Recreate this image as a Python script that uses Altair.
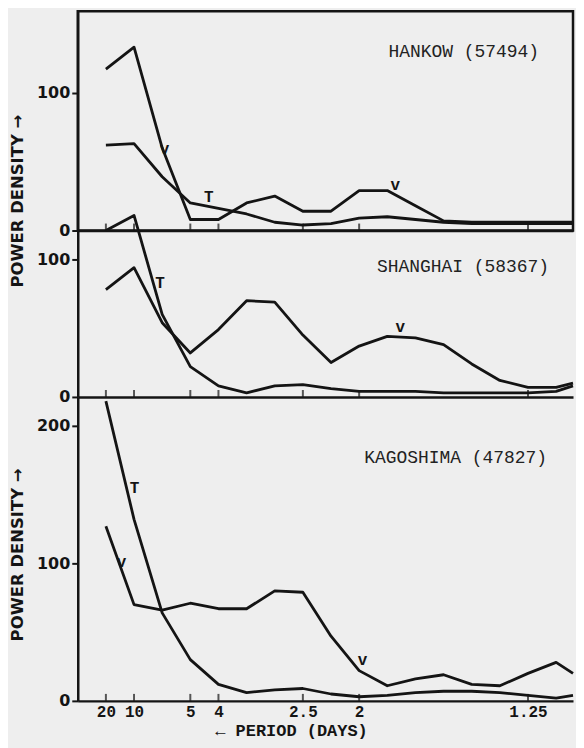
import altair as alt
import pandas as pd

# frequency (cycles/day) of each spectral estimate
FREQ = [0.05, 0.10, 0.15, 0.20, 0.25, 0.30, 0.35, 0.40, 0.45, 0.50,
        0.55, 0.60, 0.65, 0.70, 0.75, 0.80, 0.85, 0.88]

HANKOW_V = [117, 133, 60, 8, 8, 20, 25, 14, 14, 29, 29, 18, 7, 6, 6, 6, 6, 6]
HANKOW_T = [62, 63, 39, 20, 16, 12, 6, 4, 5, 9, 10, 8, 6, 5, 5, 5, 5, 5]

SHANGHAI_V = [78, 94, 54, 32, 49, 70, 69, 45, 25, 37, 44, 43, 38, 24, 12, 7, 7, 10]
SHANGHAI_T = [121, 132, 60, 22, 8, 3, 8, 9, 6, 4, 4, 4, 3, 3, 3, 3, 4, 8]

KAGOSHIMA_V = [127, 70, 66, 71, 67, 67, 80, 79, 47, 22, 11, 16, 19, 12, 11, 20, 28, 20]
KAGOSHIMA_T = [218, 132, 64, 30, 12, 6, 8, 9, 5, 3, 4, 6, 7, 7, 6, 4, 2, 4]

PERIOD_LABELS = ["20", "10", "5", "4", "2.5", "2", "1.25"]

# curve letters: (frequency, power, letter)
HANKOW_TAGS = [(0.154, 59, "v"), (0.233, 24, "T"), (0.564, 33, "v")]
SHANGHAI_TAGS = [(0.146, 83, "T"), (0.573, 51, "v")]
KAGOSHIMA_TAGS = [(0.101, 155, "T"), (0.078, 101, "v"), (0.506, 30, "v")]

TICK_FREQ = [1 / float(p) for p in PERIOD_LABELS]
label_map = {str(round(1 / float(p), 4)): p for p in PERIOD_LABELS}
label_expr = ("{" + ",".join(f"'{k}':'{v}'" for k, v in label_map.items())
              + "}[toString(round(datum.value*10000)/10000)]")

INK = "#141414"
W = 497
X_DOMAIN = [0, 0.88]


def long_df(v, t):
    rows = [{"f": f, "p": p, "s": "V"} for f, p in zip(FREQ, v)]
    rows += [{"f": f, "p": p, "s": "T"} for f, p in zip(FREQ, t)]
    return pd.DataFrame(rows)


def panel(v, t, tags, station, st_x, st_y, ymax, height, yvals,
          bottom=False, ytitle=None, ytitle_y=0, frame=False):
    if bottom:
        xaxis = alt.Axis(values=TICK_FREQ, labelExpr=label_expr, ticks=False,
                         grid=False, domainColor=INK, domainWidth=2.5,
                         labelFont="Liberation Mono", labelFontWeight="bold",
                         labelFontSize=16, labelColor=INK, labelPadding=3,
                         labelOverlap=False, labelFlush=False,
                         title="\u2190 PERIOD (DAYS)", titleFont="Liberation Mono",
                         titleFontWeight="bold", titleFontSize=17, titleColor=INK,
                         titleX=214, titleY=35, titleAlign="center",
                         titleBaseline="alphabetic")
    else:
        xaxis = alt.Axis(values=TICK_FREQ, labels=False, ticks=False, grid=False,
                         domainColor=INK, domainWidth=2.5, title=None)
    yargs = dict(values=yvals, format="d", tickSize=6, tickWidth=2,
                 tickColor=INK, grid=False, domainColor=INK, domainWidth=2.5,
                 labelFont="DejaVu Sans", labelFontWeight="bold",
                 labelFontSize=16, labelColor=INK, labelPadding=2)
    if ytitle:
        yaxis = alt.Axis(title=ytitle, titleFont="DejaVu Sans",
                         titleFontWeight="bold", titleFontSize=16.5,
                         titleColor=INK, titleX=-60, titleY=ytitle_y,
                         titleAngle=270, titleAlign="center",
                         titleBaseline="middle", **yargs)
    else:
        yaxis = alt.Axis(title=None, **yargs)

    X = alt.X("f:Q", scale=alt.Scale(domain=X_DOMAIN, nice=False, zero=False),
              axis=xaxis)
    Y = alt.Y("p:Q", scale=alt.Scale(domain=[0, ymax], nice=False), axis=yaxis)

    lines = alt.Chart(long_df(v, t)).mark_line(
        color=INK, strokeWidth=2.8, clip=False, strokeJoin="round"
    ).encode(x=X, y=Y, detail="s:N")

    ticks = alt.Chart(pd.DataFrame({"f": TICK_FREQ})).mark_tick(
        orient="vertical", size=7, thickness=2, color=INK
    ).encode(x=X, y=alt.value(height - 3.5))

    tag_df = pd.DataFrame(tags, columns=["f", "p", "t"])
    letters = alt.Chart(tag_df).mark_text(
        font="Liberation Mono", fontWeight="bold", fontSize=16, color=INK
    ).encode(x=X, y=Y, text="t:N")

    name = alt.Chart(pd.DataFrame({"n": [station]})).mark_text(
        font="Liberation Mono", fontSize=18, color="#222222", align="right",
        baseline="middle"
    ).encode(x=alt.value(st_x), y=alt.value(st_y), text="n:N")

    props = dict(width=W, height=height)
    if frame:
        props["view"] = alt.ViewBackground(stroke=INK, strokeWidth=2.5)
    return alt.layer(lines, ticks, letters, name).properties(**props)


top = panel(HANKOW_V, HANKOW_T, HANKOW_TAGS, "HANKOW (57494)", 463, 41,
            159, 220, [0, 100], ytitle="POWER DENSITY  \u2192", ytitle_y=190,
            frame=True)
mid = panel(SHANGHAI_V, SHANGHAI_T, SHANGHAI_TAGS, "SHANGHAI (58367)", 473, 37,
            121, 167, [0, 100])
bot = panel(KAGOSHIMA_V, KAGOSHIMA_T, KAGOSHIMA_TAGS, "KAGOSHIMA (47827)", 471, 61,
            221, 305, [0, 100, 200], bottom=True,
            ytitle="POWER DENSITY  \u2192", ytitle_y=158)

chart = alt.vconcat(top, mid, bot, spacing=0, bounds="flush").properties(
    background="#eeeeee", padding={"left": 0, "top": 0, "right": 0, "bottom": 16}
).configure_view(stroke=None)

chart.save("out.html", embed_options={"renderer": "svg", "actions": False})
